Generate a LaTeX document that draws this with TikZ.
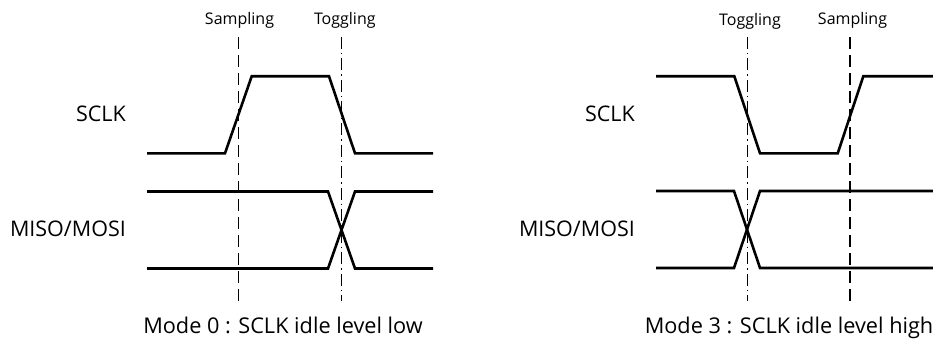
\documentclass[tikz,border=0pt]{standalone}
\usepackage{fontspec}
\setmainfont{Open Sans}
\begin{document}
\begin{tikzpicture}[x=1pt,y=-1pt,
  wave/.style={line width=2.6pt, line join=miter},
  sampline/.style={line width=1.6pt, dash pattern=on 12pt off 6pt},
  toggline/.style={line width=1.5pt, dash pattern=on 12pt off 4pt on 1.5pt off 4pt},
  biglabel/.style={inner sep=0pt, font=\fontsize{21.5}{26}\selectfont},
  smalllabel/.style={inner sep=0pt, anchor=base, font=\fontsize{16}{19}\selectfont},
  modelabel/.style={inner sep=0pt, anchor=base, font=\fontsize{21.7}{26}\selectfont}]
\useasboundingbox (0,0) rectangle (933,350);

% ---------- Mode 0 ----------
\node[biglabel, anchor=base east] (sclkA) at (126,121.7) {SCLK};
\node[biglabel, anchor=base east] (misoA) at (126,236.7) {MISO/MOSI};
\node[smalllabel] (sampA) at (239.5,25) {Sampling};
\node[smalllabel] (togA) at (344.8,25) {Toggling};
\node[modelabel] (modeA) at (283,333) {Mode 0 : SCLK idle level low};

\coordinate (sA1) at (238.3,37);
\coordinate (sA2) at (238.3,301);
\coordinate (tA1) at (341.5,37);
\coordinate (tA2) at (341.5,301);
\draw[sampline] (sA1) -- (sA2);
\draw[toggline] (tA1) -- (tA2);

\coordinate (a0) at (147,153.3);
\coordinate (a1) at (225,153.3);
\coordinate (a2) at (251.7,76.3);
\coordinate (a3) at (329,76.3);
\coordinate (a4) at (355,153.3);
\coordinate (a5) at (433,153.3);
\draw[wave] (a0) -- (a1) -- (a2) -- (a3) -- (a4) -- (a5);

\coordinate (ah0) at (147,191.5);
\coordinate (ah1) at (328,191.5);
\coordinate (al1) at (355,268.5);
\coordinate (al2) at (433,268.5);
\coordinate (al0) at (147,268.5);
\coordinate (bl1) at (328,268.5);
\coordinate (bh1) at (355,191.5);
\coordinate (bh2) at (433,191.5);
\draw[wave] (ah0) -- (ah1) -- (al1) -- (al2);
\draw[wave] (al0) -- (bl1) -- (bh1) -- (bh2);

% ---------- Mode 3 ----------
\node[biglabel, anchor=base east] (sclkB) at (635,121.7) {SCLK};
\node[biglabel, anchor=base east] (misoB) at (635,236.7) {MISO/MOSI};
\node[smalllabel] (togB) at (750,26) {Toggling};
\node[smalllabel] (sampB) at (852.5,25) {Sampling};
\node[modelabel] (modeB) at (789,333) {Mode 3 : SCLK idle level high};

\coordinate (tB1) at (747.3,37);
\coordinate (tB2) at (747.3,301);
\coordinate (sB1) at (850,37);
\coordinate (sB2) at (850,301);
\draw[toggline] (tB1) -- (tB2);
\draw[sampline] (sB1) -- (sB2);

\coordinate (b0) at (656,76.3);
\coordinate (b1) at (734.3,76.3);
\coordinate (b2) at (760,153.3);
\coordinate (b3) at (837.7,153.3);
\coordinate (b4) at (863.3,76.3);
\coordinate (b5) at (933,76.3);
\draw[wave] (b0) -- (b1) -- (b2) -- (b3) -- (b4) -- (b5);

\coordinate (ch0) at (656,191);
\coordinate (ch1) at (734,191);
\coordinate (cl1) at (760,268);
\coordinate (cl2) at (933,268);
\coordinate (cl0) at (656,268);
\coordinate (dl1) at (734,268);
\coordinate (dh1) at (760,191);
\coordinate (dh2) at (933,191);
\draw[wave] (ch0) -- (ch1) -- (cl1) -- (cl2);
\draw[wave] (cl0) -- (dl1) -- (dh1) -- (dh2);
\end{tikzpicture}
\end{document}
